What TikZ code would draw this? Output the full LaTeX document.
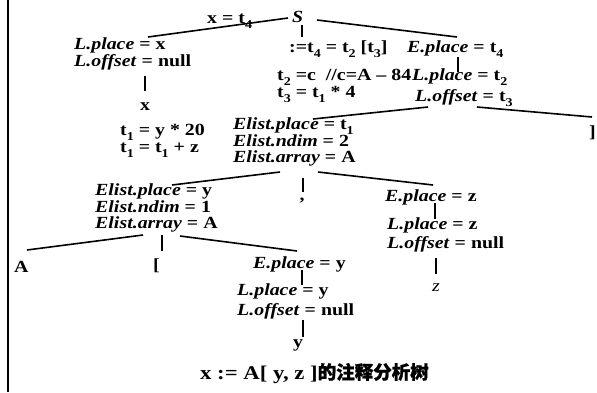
\documentclass[tikz,border=0pt]{standalone}
\usepackage{fontspec}
\setmainfont{Liberation Serif}[FakeStretch=1.17]
\newfontfamily\cjk{Noto Sans CJK SC}[FakeBold=1.2]
\newcommand\sbs[1]{\raisebox{-0.3em}{\fontsize{12}{12}\selectfont #1}}
\newcommand\iv[1]{\textit{#1}}
\begin{document}
\begin{tikzpicture}[x=1pt,y=-1pt,
  lbl/.style={anchor=base west, inner sep=0pt, font=\fontsize{17}{17}\selectfont\bfseries},
  lblc/.style={lbl, anchor=base},
  edge/.style={line width=1.6pt}]
\useasboundingbox (0,0) rectangle (597,392);
\draw[line width=2.4pt] (8,0) -- (8,392);
% texts
\node[lbl] (xt4) at (207,23) {x = t\sbs{4}};
\node[lbl] (S) at (292,22) {\iv{S}};
\node[lbl] (assign) at (289,52) {:=t\sbs{4} = t\sbs{2} [t\sbs{3}]};
\node[lbl] (Ep1) at (407,52) {\iv{E.place} = t\sbs{4}};
\node[lbl] (t2c) at (277,80) {t\sbs{2} =c\ \ //c=A -- 84};
\node[lbl] (Lp1) at (412,80) {\iv{L.place} = t\sbs{2}};
\node[lbl] (t3) at (277,97) {t\sbs{3} = t\sbs{1} * 4};
\node[lbl] (Lo1) at (415,101) {\iv{L.offset} = t\sbs{3}};
\node[lbl] (rb) at (589,137) {]};
\node[lbl] (Lpx) at (74,49) {\iv{L.place} = x};
\node[lbl] (Lox) at (74,66) {\iv{L.offset} = null};
\node[lblc] (x) at (145,110) {x};
\node[lbl] (t1a) at (120,135) {t\sbs{1} = y * 20};
\node[lbl] (t1b) at (120,152) {t\sbs{1} = t\sbs{1} + z};
\node[lbl] (El1p) at (233,129) {\iv{Elist.place} = t\sbs{1}};
\node[lbl] (El1n) at (233,146) {\iv{Elist.ndim} = 2};
\node[lbl] (El1a) at (233,162) {\iv{Elist.array} = A};
\node[lblc] (comma) at (302,200) {,};
\node[lbl] (Epz) at (385,201) {\iv{E.place} = z};
\node[lbl] (Lpz) at (387,229) {\iv{L.place} = z};
\node[lbl] (Loz) at (387,248) {\iv{L.offset} = null};
\node[lblc] (z) at (436,291) {\mdseries\iv{z}};
\node[lbl] (El2p) at (95,195) {\iv{Elist.place} = y};
\node[lbl] (El2n) at (95,212) {\iv{Elist.ndim} = 1};
\node[lbl] (El2a) at (95,228) {\iv{Elist.array} = A};
\node[lbl] (A) at (14,272) {A};
\node[lbl] (lb) at (153,270) {[};
\node[lbl] (Epy) at (253,268) {\iv{E.place} = y};
\node[lbl] (Lpy) at (237,295) {\iv{L.place} = y};
\node[lbl] (Loy) at (237,315) {\iv{L.offset} = null};
\node[lblc] (y) at (298,347) {y};
\node[lbl, font=\fontsize{19.4}{19.4}\selectfont\bfseries] (cap) at (200,379) {x := A[ y, z ]{\cjk\fontsize{18.5}{18.5}\selectfont 的注释分析树}};
% connector ends
\coordinate (c1a) at (148,37);  \coordinate (c1b) at (288,18);
\coordinate (c2a) at (317,20);  \coordinate (c2b) at (457,37);
\coordinate (c3a) at (302,25);  \coordinate (c3b) at (302,37);
\coordinate (c4a) at (458,57);  \coordinate (c4b) at (458,72);
\coordinate (c5a) at (428,107); \coordinate (c5b) at (313,119);
\coordinate (c6a) at (477,107); \coordinate (c6b) at (592,117);
\coordinate (c7a) at (145,76);  \coordinate (c7b) at (145,91);
\coordinate (c8a) at (280,172); \coordinate (c8b) at (172,185);
\coordinate (c9a) at (303,178); \coordinate (c9b) at (303,192);
\coordinate (c10a) at (318,172); \coordinate (c10b) at (433,185);
\coordinate (c11a) at (435,203); \coordinate (c11b) at (435,219);
\coordinate (c12a) at (436,258); \coordinate (c12b) at (436,274);
\coordinate (c13a) at (143,235); \coordinate (c13b) at (27,250);
\coordinate (c14a) at (162,235); \coordinate (c14b) at (162,251);
\coordinate (c15a) at (180,236); \coordinate (c15b) at (297,251);
\coordinate (c16a) at (302,270); \coordinate (c16b) at (302,285);
\coordinate (c17a) at (303,320); \coordinate (c17b) at (303,337);
\foreach \i in {1,...,17} {\draw[edge] (c\i a) -- (c\i b);}
\end{tikzpicture}
\end{document}
